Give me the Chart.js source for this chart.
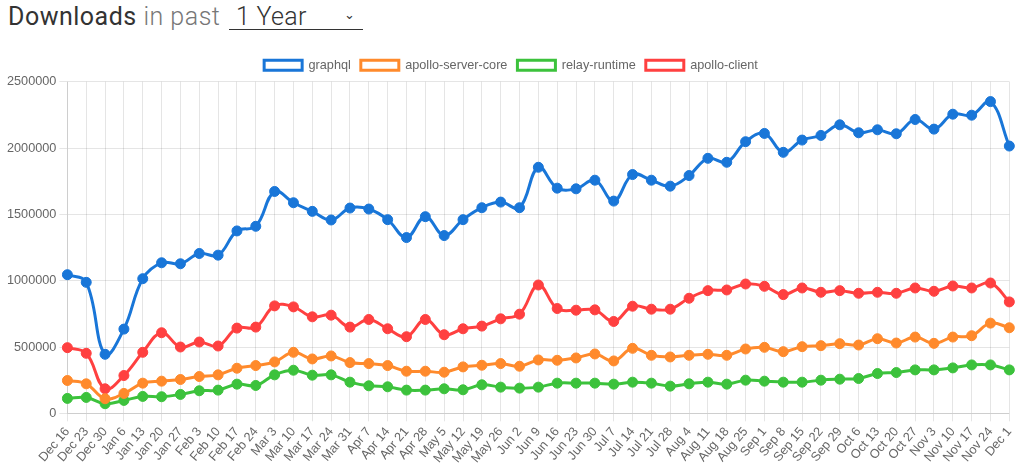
<!DOCTYPE html>
<html>
<head>
<meta charset="utf-8">
<script src="https://cdn.jsdelivr.net/npm/chart.js@4"></script>
<style>
  html, body { margin: 0; padding: 0; background: #fff; }
  body { width: 1024px; height: 464px; overflow: hidden; position: relative; font-family: "Liberation Sans", Arial, sans-serif; }
  .head { position: absolute; left: 8px; top: 0; height: 40px; font-family: Roboto, "Liberation Sans", sans-serif; font-size: 25px; line-height: 34px; white-space: nowrap; letter-spacing: 0.5px; }
  .head .big { color: #333; font-weight: 400; }
  .head .small { color: #777; font-weight: 300; }
  .picker { position: absolute; left: 221px; top: 0; width: 134px; height: 29px; border-bottom: 1.5px solid #333; color: #333; font-weight: 300; letter-spacing: 0.3px; }
  .picker span { position: absolute; left: 7px; top: 0; }
  .picker i { position: absolute; right: 8px; top: -2px; font-style: normal; font-size: 13px; color: #333; }
  .wrap { position: absolute; left: 0; top: 49px; width: 1024px; height: 420px; }
</style>
</head>
<body>
<div class="head"><span class="big">Downloads</span> <span class="small">in past</span>
  <div class="picker"><span>1 Year</span><i>&#8964;</i></div>
</div>
<div class="wrap"><canvas id="downloads-chart"></canvas></div>
<script>
const weeks = ['Dec 16','Dec 23','Dec 30','Jan 6','Jan 13','Jan 20','Jan 27','Feb 3','Feb 10','Feb 17','Feb 24',
  'Mar 3','Mar 10','Mar 17','Mar 24','Mar 31','Apr 7','Apr 14','Apr 21','Apr 28','May 5','May 12','May 19','May 26',
  'Jun 2','Jun 9','Jun 16','Jun 23','Jun 30','Jul 7','Jul 14','Jul 21','Jul 28','Aug 4','Aug 11','Aug 18','Aug 25',
  'Sep 1','Sep 8','Sep 15','Sep 22','Sep 29','Oct 6','Oct 13','Oct 20','Oct 27','Nov 3','Nov 10','Nov 17','Nov 24','Dec 1'];

const graphql = [1045000,987500,445000,635000,1015000,1135000,1127500,1205000,1192500,1375000,1410000,
  1672500,1587500,1522500,1457500,1547500,1540000,1460000,1325000,1482500,1340000,1460000,1550000,1592500,
  1550000,1855000,1697500,1692500,1757500,1600000,1800000,1757500,1712500,1792500,1922500,1892500,2047500,
  2110000,1967500,2060000,2095000,2175000,2115000,2137500,2107500,2215000,2142500,2255000,2247500,2350000,2015000];

const apolloServerCore = [247500,222500,110000,150000,227500,242500,255000,277500,290000,340000,360000,
  387500,460000,410000,432500,382500,375000,360000,317500,317500,310000,350000,362500,375000,
  355000,402500,400000,417500,447500,395000,490000,437500,425000,437500,445000,437500,485000,
  497500,465000,502500,510000,525000,515000,562500,530000,575000,527500,575000,585000,680000,645000];

const relayRuntime = [112500,120000,72500,97500,127500,125000,142500,170000,175000,220000,210000,
  290000,325000,287500,290000,235000,207500,200000,175000,175000,185000,177500,215000,197500,
  190000,197500,227500,227500,227500,220000,235000,227500,205000,222500,235000,220000,250000,
  242500,235000,235000,250000,257500,262500,300000,307500,327500,327500,342500,365000,365000,327500];

const apolloClient = [495000,452500,185000,285000,460000,607500,500000,537500,507500,642500,650000,
  810000,802500,727500,740000,650000,707500,637500,577500,707500,592500,637500,657500,712500,
  747500,967500,790000,777500,780000,692500,807500,785000,785000,867500,925000,930000,975000,
  957500,895000,945000,912500,925000,905000,912500,905000,945000,920000,960000,945000,982500,840000];

const yTicks = [0, 500000, 1000000, 1500000, 2000000, 2500000];

const labelFont = { family: '"Liberation Sans", Arial, sans-serif', size: 12.7 };

// one line per package
function series(label, values, color){
  return {
    label: label,
    data: values,
    borderColor: color,
    backgroundColor: '#fff',
    borderWidth: 3,
    pointBackgroundColor: color,
    pointBorderColor: color,
    pointBorderWidth: 1,
    pointRadius: 5,
    tension: 0.4,
    fill: false
  };
}

const ctx = document.getElementById('downloads-chart').getContext('2d');
const downloadsChart = new Chart(ctx, {
  type: 'line',
  data: {
    labels: weeks,
    datasets: [
      series('graphql', graphql, '#1976d8'),
      series('apollo-server-core', apolloServerCore, '#ff8a2c'),
      series('relay-runtime', relayRuntime, '#3cc23c'),
      series('apollo-client', apolloClient, '#ff4040')
    ]
  },
  options: {
    responsive: true,
    maintainAspectRatio: false,
    animation: false,
    layout: { padding: { left: 4, right: 6, top: 0, bottom: 0 } },
    plugins: {
      legend: {
        display: true,
        labels: {
          boxWidth: 38,
          boxHeight: 10,
          color: '#666',
          font: labelFont,
          padding: 10
        }
      },
      tooltip: { enabled: false }
    },
    scales: {
      x: {
        grid: { color: 'rgba(0,0,0,0.1)', tickLength: 8 },
        ticks: {
          color: '#666',
          autoSkip: false,
          maxRotation: 50,
          minRotation: 50,
          font: labelFont
        }
      },
      y: {
        min: 0,
        max: 2500000,
        grid: { color: 'rgba(0,0,0,0.1)', tickLength: 8 },
        afterBuildTicks: function(axis){
          axis.ticks = yTicks.map(v => ({ value: v }));
        },
        ticks: {
          color: '#666',
          font: labelFont,
          callback: function(value){ return String(value); }
        }
      }
    }
  }
});
</script>
</body>
</html>
